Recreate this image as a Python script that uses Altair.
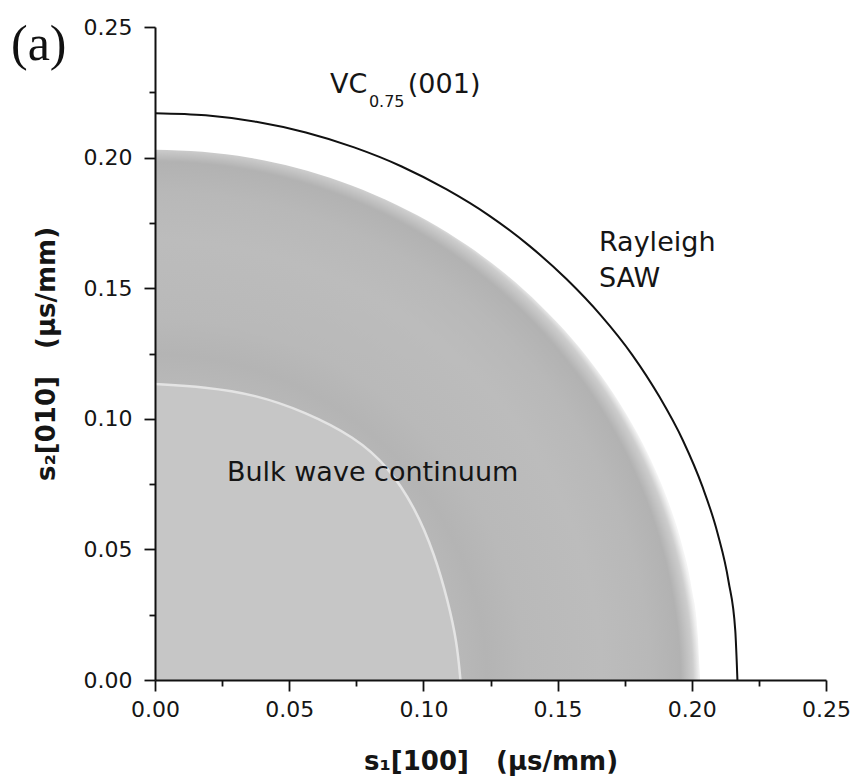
import altair as alt
import pandas as pd

# ---------------- data (slowness, µs/mm) ----------------
# Rayleigh SAW slowness curve (black line)
saw_s1 = [0.2170, 0.2162, 0.2137, 0.2096, 0.2039, 0.1967, 0.1879, 0.1778, 0.1662, 0.1534,
          0.1395, 0.1245, 0.1085, 0.0917, 0.0742, 0.0562, 0.0377, 0.0189, 0.0000]
saw_s2 = [0.0000, 0.0189, 0.0377, 0.0562, 0.0742, 0.0917, 0.1085, 0.1245, 0.1395, 0.1534,
          0.1662, 0.1778, 0.1879, 0.1967, 0.2039, 0.2096, 0.2137, 0.2162, 0.2170]

# outer edge of the bulk wave continuum (grey region)
cont_s1 = [0.2030, 0.2022, 0.1999, 0.1961, 0.1908, 0.1840, 0.1758, 0.1663, 0.1555, 0.1435,
           0.1305, 0.1164, 0.1015, 0.0858, 0.0694, 0.0525, 0.0353, 0.0177, 0.0000]
cont_s2 = [0.0000, 0.0177, 0.0353, 0.0525, 0.0694, 0.0858, 0.1015, 0.1164, 0.1305, 0.1435,
           0.1555, 0.1663, 0.1758, 0.1840, 0.1908, 0.1961, 0.1999, 0.2022, 0.2030]

# inner bulk wave sheet (light region boundary)
inner_s1 = [0.0000, 0.0186, 0.0373, 0.0559, 0.0745, 0.0868, 0.0969, 0.1043, 0.1092, 0.1125, 0.1138]
inner_s2 = [0.1133, 0.1122, 0.1093, 0.1027, 0.0930, 0.0818, 0.0660, 0.0478, 0.0300, 0.0145, 0.0000]

major_ticks = [0.00, 0.05, 0.10, 0.15, 0.20, 0.25]
minor_ticks = [0.025, 0.075, 0.125, 0.175, 0.225]

x_title = "s\u2081[100]\u00a0\u00a0\u00a0(\u00b5s/mm)"
y_title = "s\u2082[010]\u00a0\u00a0\u00a0(\u00b5s/mm)"

saw_df = pd.DataFrame({"s1": saw_s1, "s2": saw_s2})
cont_df = pd.DataFrame({"s1": cont_s1, "s2": cont_s2})
inner_df = pd.DataFrame({"s1": inner_s1, "s2": inner_s2})
one = pd.DataFrame({"k": [0]})

# ---------------- styling ----------------
W, H = 671, 653
xs = alt.Scale(domain=[0, 0.25], nice=False)
ys = alt.Scale(domain=[0, 0.25], nice=False)
INK = "#151515"
FONT = "DejaVu Sans"

axis_style = dict(domainColor="#111111", domainWidth=2, tickColor="#111111", tickWidth=1.8,
                  labelFont=FONT, labelFontSize=22, labelColor=INK,
                  titleFont=FONT, titleFontSize=26, titleFontWeight="bold", titleColor=INK,
                  grid=False, zindex=2, labelFlush=False, labelOverlap=False, tickSize=11)
minor_style = dict(labels=False, domain=False, tickSize=6, tickColor="#111111", tickWidth=1.8,
                   grid=False, title="", zindex=2)

x_major = alt.Axis(values=major_ticks, format=".2f", orient="bottom", labelPadding=8,
                   title=x_title, titlePadding=28, **axis_style)
y_major = alt.Axis(values=major_ticks, format=".2f", orient="left", labelPadding=12,
                   title=y_title, titlePadding=24, **axis_style)
x_minor = alt.Axis(values=minor_ticks, orient="bottom", **minor_style)
y_minor = alt.Axis(values=minor_ticks, orient="left", **minor_style)

grey_fill = {
    "gradient": "radial", "x1": 0, "y1": 1, "r1": 0, "x2": 0, "y2": 1, "r2": 1,
    "stops": [
        {"offset": 0.00, "color": "#c3c3c3"},
        {"offset": 0.56, "color": "#b8b8b8"},
        {"offset": 0.61, "color": "#b4b4b4"},
        {"offset": 0.68, "color": "#b9b9b9"},
        {"offset": 0.82, "color": "#bcbcbc"},
        {"offset": 0.91, "color": "#b8b8b8"},
        {"offset": 0.965, "color": "#b2b2b2"},
        {"offset": 0.988, "color": "#cdcdcd"},
        {"offset": 1.00, "color": "#f4f4f4"},
    ],
}


def enc(chart, xaxis=None, yaxis=None):
    return chart.encode(
        x=alt.X("s1:Q", scale=xs, axis=xaxis),
        y=alt.Y("s2:Q", scale=ys, axis=yaxis),
    )


grey = enc(alt.Chart(cont_df).mark_area(color=grey_fill, interpolate="monotone"), x_major, y_major)
inner = enc(alt.Chart(inner_df).mark_area(color="#c6c6c6", interpolate="basis"))
inner_edge = enc(alt.Chart(inner_df).mark_line(color="#e4e4e4", strokeWidth=2.5, interpolate="basis"))
saw = enc(alt.Chart(saw_df).mark_line(color="#111111", strokeWidth=2, interpolate="monotone"), x_minor, y_minor)


def label(text, s1, s2, size):
    return alt.Chart(one).mark_text(
        text=text, font=FONT, fontSize=size, align="left", baseline="alphabetic", color=INK
    ).encode(
        x=alt.XDatum(s1, type="quantitative", scale=xs, axis=None),
        y=alt.YDatum(s2, type="quantitative", scale=ys, axis=None),
    )


texts = [
    label("VC", 0.0652, 0.2246, 27),
    label("0.75", 0.0797, 0.2194, 16),
    label("(001)", 0.0942, 0.2246, 27),
    label("Rayleigh", 0.1654, 0.1642, 27),
    label("SAW", 0.1654, 0.1505, 27),
    label("Bulk wave continuum", 0.0268, 0.0762, 27),
]

panel = alt.Chart(one).mark_text(
    text="(a)", font="Liberation Serif", fontSize=50, align="left", baseline="alphabetic", color="#111111"
).encode(x=alt.value(-144), y=alt.value(33))

chart = (
    alt.layer(grey, inner, inner_edge, saw, *texts, panel)
    .resolve_axis(x="independent", y="independent")
    .properties(
        width=W, height=H,
        autosize=alt.AutoSizeParams(type="none"),
        padding={"left": 155, "top": 27, "right": 32, "bottom": 103},
        background="white",
    )
    .configure_view(stroke="transparent")
)

chart.save("out.html", embed_options={"renderer": "svg", "actions": False})
